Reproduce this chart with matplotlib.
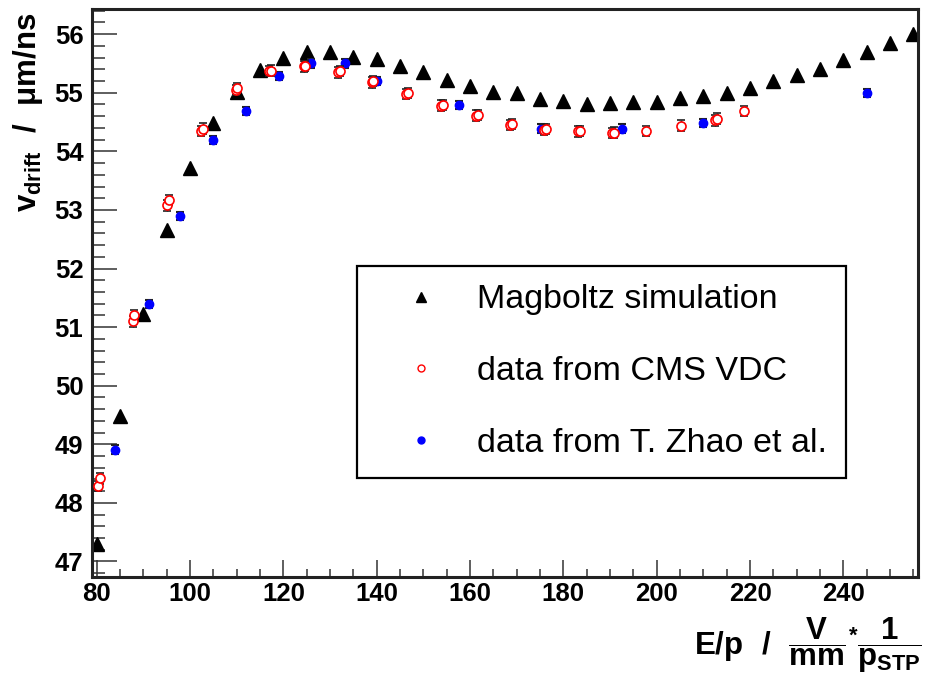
import matplotlib
matplotlib.use("Agg")
import matplotlib.pyplot as plt
from matplotlib.lines import Line2D
from matplotlib.ticker import MultipleLocator

# Magboltz simulation
mag_x = [80, 85, 90, 95, 100, 105, 110, 115, 120, 125, 130, 135, 140, 145, 150, 155, 160, 165,
         170, 175, 180, 185, 190, 195, 200, 205, 210, 215, 220, 225, 230, 235, 240, 245, 250, 255]
mag_v = [47.30, 49.49, 51.23, 52.65, 53.72, 54.49, 55.02, 55.39, 55.59, 55.69, 55.70, 55.61,
         55.58, 55.46, 55.36, 55.22, 55.12, 55.01, 54.99, 54.89, 54.86, 54.81, 54.82, 54.85,
         54.85, 54.91, 54.95, 55.00, 55.09, 55.20, 55.30, 55.41, 55.56, 55.70, 55.85, 56.00]

# data from CMS VDC
cms_x = [80.2, 80.6, 87.7, 88.0, 95.0, 95.4, 102.3, 102.8, 109.8, 110.1, 117.0, 117.3, 124.4,
         124.7, 131.8, 132.1, 139.0, 139.3, 146.3, 146.6, 153.8, 154.3, 161.3, 161.7, 168.5,
         168.9, 175.8, 176.2, 183.2, 183.6, 190.5, 190.9, 197.8, 205.3, 212.6, 212.9, 218.8]
cms_v = [48.29, 48.42, 51.10, 51.21, 53.08, 53.17, 54.35, 54.39, 55.05, 55.08, 55.37, 55.38,
         55.45, 55.46, 55.35, 55.37, 55.18, 55.20, 54.98, 55.00, 54.78, 54.79, 54.61, 54.62,
         54.45, 54.47, 54.37, 54.38, 54.34, 54.35, 54.31, 54.32, 54.35, 54.44, 54.53, 54.56,
         54.69]
cms_err = [0.09] * len(cms_x)

# data from T. Zhao et al.
zhao_x = [83.9, 91.1, 97.9, 105.0, 112.0, 119.1, 126.0, 133.1, 140.1, 157.6, 175.1, 192.6,
          210.0, 245.1]
zhao_v = [48.91, 51.39, 52.89, 54.19, 54.69, 55.29, 55.50, 55.50, 55.20, 54.79, 54.39, 54.39,
          54.49, 54.99]
zhao_err = [0.07] * len(zhao_x)

plt.rcParams['font.family'] = ['Liberation Sans', 'DejaVu Sans']
plt.rcParams['mathtext.fontset'] = 'custom'
plt.rcParams['mathtext.rm'] = 'Liberation Sans:bold'
plt.rcParams['mathtext.it'] = 'Liberation Sans:bold'
plt.rcParams['mathtext.bf'] = 'Liberation Sans:bold'

fig = plt.figure(figsize=(9.25, 6.77), dpi=100)
ax = fig.add_axes([0.0991, 0.1482, 0.8933, 0.8385])

ax.plot(mag_x, mag_v, '^', color='black', ms=9.5, ls='none', zorder=2)
ax.errorbar(zhao_x, zhao_v, yerr=zhao_err, fmt='o', color='blue', ms=6,
            ecolor='#222222', elinewidth=1, capsize=3, capthick=1.5, zorder=3)
ax.errorbar(cms_x, cms_v, yerr=cms_err, fmt='o', mfc='white', mec='red', mew=1.2, ms=6.5,
            ecolor='#222222', elinewidth=1, capsize=3, capthick=1.5, zorder=4)

ax.set_xlim(78.9, 256)
ax.set_ylim(46.74, 56.43)
ax.xaxis.set_major_locator(MultipleLocator(20))
ax.xaxis.set_minor_locator(MultipleLocator(5))
ax.yaxis.set_major_locator(MultipleLocator(1))
ax.yaxis.set_minor_locator(MultipleLocator(0.2))

for s in ax.spines.values():
    s.set_linewidth(2.2)
    s.set_color('#222222')
ax.tick_params(axis='both', which='both', direction='in', color='#333333', width=1.1,
               labelsize=18.5)
ax.tick_params(axis='y', which='major', length=18, pad=6)
ax.tick_params(axis='y', which='minor', length=9.5)
ax.tick_params(axis='x', which='major', length=12, pad=4)
ax.tick_params(axis='x', which='minor', length=6)
for lab in ax.get_xticklabels() + ax.get_yticklabels():
    lab.set_fontweight('bold')

handles = [
    Line2D([], [], marker='^', color='black', ls='none', ms=7),
    Line2D([], [], marker='o', mfc='white', mec='red', mew=1.0, ls='none', ms=5),
    Line2D([], [], marker='o', color='blue', ls='none', ms=5),
]
labels = ['Magboltz simulation', 'data from CMS VDC', 'data from T. Zhao et al.']
leg = ax.legend(handles, labels, loc='upper left',
                bbox_to_anchor=(356.7 / 925, 1 - 265.7 / 677), bbox_transform=fig.transFigure,
                borderaxespad=0, fontsize=24.5, frameon=True, fancybox=False, framealpha=1,
                borderpad=0.55, labelspacing=1.2, handlelength=2.7, handletextpad=0.3)
leg.get_frame().set_edgecolor('black')
leg.get_frame().set_linewidth(1.6)

fig.text(28 / 925, 1 - 13 / 677, r'$v_{drift}\ \ /\ \ \mu m/ns$', rotation=90,
         ha='center', va='top', fontsize=22.5)
fig.text(922 / 925, 2 / 677, r'$E/p\ \ /\ \ \dfrac{V}{mm}{}^{*}\dfrac{1}{p_{STP}}$',
         ha='right', va='bottom', fontsize=22.5)

fig.savefig('out.png', dpi=100)
